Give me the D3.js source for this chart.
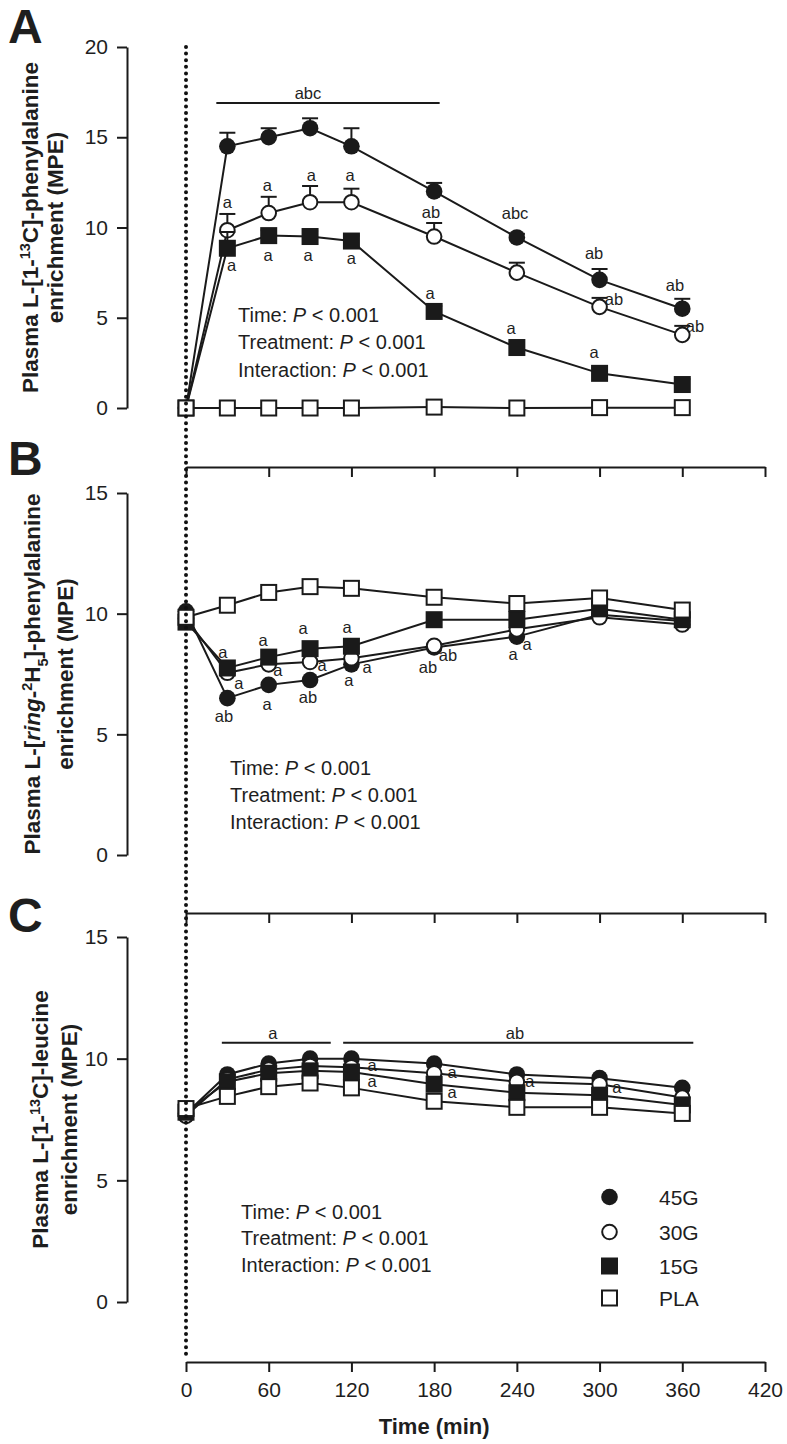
<!DOCTYPE html>
<html><head><meta charset="utf-8">
<script src="https://cdn.jsdelivr.net/npm/d3@7"></script>
<style>
body{margin:0;background:#fff}
svg{display:block}
text{font-family:"Liberation Sans",Arial,Helvetica,sans-serif;fill:#1e1e1e}
</style>
</head><body>
<svg id="chart" width="787" height="1444"></svg>
<script>
// ---------- DATA ----------
const times = [0, 30, 60, 90, 120, 180, 240, 300, 360];
const xTickValues = [0, 60, 120, 180, 240, 300, 360, 420];
const seriesNames = ["45G", "30G", "15G", "PLA"];

// Panel A: L-[1-13C]-phenylalanine (MPE)
const a45 = [0, 14.5, 15.0, 15.5, 14.5, 12.0, 9.45, 7.1, 5.5];
const a45err = [0, 0.75, 0.5, 0.55, 1.0, 0.47, 0.2, 0.6, 0.55];
const a30 = [0, 9.85, 10.8, 11.4, 11.4, 9.5, 7.5, 5.6, 4.05];
const a30err = [0, 0.9, 0.9, 0.9, 0.75, 0.75, 0.55, 0.5, 0.5];
const a15 = [0, 8.85, 9.55, 9.5, 9.25, 5.35, 3.35, 1.92, 1.3];
const a15err = [0, 0.9, 0.3, 0.3, 0.3, 0.3, 0.3, 0.3, 0.3];
const aPLA = [0, 0, 0, 0, 0, 0.05, 0, 0.02, 0.02];
const aTicks = [0, 5, 10, 15, 20];

// Panel B: L-[ring-2H5]-phenylalanine (MPE)
const b45 = [10.1, 6.5, 7.05, 7.25, 7.9, 8.6, 9.05, 9.95, 9.7];
const b30 = [9.8, 7.55, 7.9, 8.0, 8.15, 8.67, 9.35, 9.85, 9.55];
const b15 = [9.65, 7.75, 8.2, 8.55, 8.65, 9.75, 9.75, 10.2, 9.75];
const bPLA = [9.85, 10.35, 10.88, 11.12, 11.05, 10.68, 10.42, 10.65, 10.15];
const bTicks = [0, 5, 10, 15];

// Panel C: L-[1-13C]-leucine (MPE)
const c45 = [7.75, 9.35, 9.8, 10.0, 10.0, 9.8, 9.35, 9.2, 8.8];
const c30 = [7.65, 9.15, 9.55, 9.7, 9.65, 9.4, 9.05, 8.95, 8.4];
const c15 = [7.8, 9.05, 9.4, 9.5, 9.45, 8.95, 8.6, 8.5, 8.1];
const cPLA = [7.95, 8.45, 8.85, 9.0, 8.8, 8.25, 8.0, 8.0, 7.75];
const cTicks = [0, 5, 10, 15];

// significance letters: [time, value, label]
const annA = [[30,11.4,"a"],[59,12.35,"a"],[91,12.9,"a"],[119,12.9,"a"],
  [33,7.92,"a"],[59.5,8.48,"a"],[88.5,8.48,"a"],[120,8.31,"a"],
  [177.7,10.86,"ab"],[238.7,10.8,"abc"],[296,8.59,"ab"],[310.5,6.04,"ab"],
  [354.7,6.81,"ab"],[369.2,4.54,"ab"],[177,6.37,"a"],[235.8,4.43,"a"],[296,3.1,"a"],
  [88.5,17.45,"abc"]];
const barsA = [[22, 184, 16.9]];
const annB = [[26.8,8.41,"a"],[38.4,7.13,"a"],[27.6,5.76,"ab"],[55.9,8.91,"a"],
  [66.7,7.67,"a"],[58.8,6.26,"a"],[84.9,9.41,"a"],[98.7,7.87,"a"],[88.5,6.55,"ab"],
  [116.8,9.45,"a"],[131.3,7.79,"a"],[118.2,7.25,"a"],[175.5,7.79,"ab"],[190,8.29,"ab"],
  [237.2,8.33,"a"],[247.4,8.74,"a"]];
const annC = [[63,11.06,"a"],[238.6,11.06,"ab"],[134.9,9.74,"a"],[134.9,9.08,"a"],
  [193,9.45,"a"],[193,8.63,"a"],[249.5,9.08,"a"],[312.6,8.84,"a"]];
const barsC = [[26, 105, 10.65], [114, 368, 10.65]];

const statLines = [["Time: ", "P", " < 0.001"], ["Treatment: ", "P", " < 0.001"], ["Interaction: ", "P", " < 0.001"]];

// ---------- DRAWING ----------
const svg = d3.select("#chart");
const INK = "#1a1a1a";
const x = d3.scaleLinear().domain([0, 420]).range([186, 765]);

const panels = [
  {letter:"A", letterY:43, domain:[0,20], range:[408,47], axisY:467, ticks:aTicks,
   series:[[a45,a45err],[a30,a30err],[a15,a15err],[aPLA,null]], ann:annA, bars:barsA,
   stats:{x:238, y:[315,342,370]},
   title:[{x:38, parts:[["Plasma L-[1-"],["13","sup"],["C]-phenylalanine"]]},{x:63, parts:[["enrichment (MPE)"]]}]},
  {letter:"B", letterY:475, domain:[0,15], range:[855,493], axisY:913, ticks:bTicks,
   series:[[b45,null],[b30,null],[b15,null],[bPLA,null]], ann:annB, bars:[],
   stats:{x:230, y:[768,795,822]},
   title:[{x:40, parts:[["Plasma L-["],["ring","it"],["-"],["2","sup"],["H"],["5","sub"],["]-phenylalanine"]]},{x:73, parts:[["enrichment (MPE)"]]}]},
  {letter:"C", letterY:932, domain:[0,15], range:[1302,937], axisY:1362, ticks:cTicks,
   series:[[c45,null],[c30,null],[c15,null],[cPLA,null]], ann:annC, bars:barsC,
   stats:{x:241, y:[1212,1238,1265]},
   title:[{x:48, parts:[["Plasma L-[1-"],["13","sup"],["C]-leucine"]]},{x:77, parts:[["enrichment (MPE)"]]}]}
];

const R = 8.3, S = 17;
function drawMarker(g, kind, cx, cy) {
  if (kind === 0 || kind === 1) {
    g.append("circle").attr("cx", cx).attr("cy", cy).attr("r", kind === 0 ? R : R - 1)
      .attr("fill", kind === 0 ? INK : "#fff").attr("stroke", INK).attr("stroke-width", kind === 0 ? 0 : 2);
  } else {
    const s = kind === 2 ? S : S - 2;
    g.append("rect").attr("x", cx - s/2).attr("y", cy - s/2).attr("width", s).attr("height", s)
      .attr("fill", kind === 2 ? INK : "#fff").attr("stroke", INK).attr("stroke-width", kind === 2 ? 0 : 2);
  }
}

panels.forEach((p, pi) => {
  const y = d3.scaleLinear().domain(p.domain).range(p.range);
  const g = svg.append("g");

  // y axis
  const ya = g.append("g").attr("transform", "translate(127,0)")
    .call(d3.axisLeft(y).tickValues(p.ticks).tickSize(10).tickSizeOuter(0).tickPadding(9));
  // x axis
  const xa = g.append("g").attr("transform", `translate(0,${p.axisY})`)
    .call(d3.axisBottom(x).tickValues(xTickValues).tickSize(10).tickSizeOuter(0).tickPadding(10)
      .tickFormat(pi === 2 ? d3.format("d") : () => ""));
  [ya, xa].forEach(a => {
    a.selectAll("path,line").attr("stroke", INK).attr("stroke-width", 2);
    a.selectAll("text").attr("font-size", 21).attr("fill", "#1e1e1e")
      .style("font-family", '"Liberation Sans",Arial,sans-serif');
  });

  // panel letter
  g.append("text").attr("x", 8).attr("y", p.letterY).attr("font-size", 48)
    .attr("font-weight", "bold").attr("fill", "#111").text(p.letter);

  // y title
  const cy = (p.range[0] + p.range[1]) / 2;
  p.title.forEach(line => {
    const t = g.append("text").attr("transform", `translate(${line.x},${cy}) rotate(-90)`)
      .attr("text-anchor", "middle").attr("font-size", 22.5).attr("font-weight", "bold");
    line.parts.forEach(([txt, kind]) => {
      const ts = t.append("tspan").text(txt);
      if (kind === "sup") ts.attr("font-size", 14.5).attr("baseline-shift", "super");
      if (kind === "sub") ts.attr("font-size", 14.5).attr("baseline-shift", "sub");
      if (kind === "it") ts.attr("font-style", "italic");
    });
  });

  // stats
  statLines.forEach((parts, i) => {
    const t = g.append("text").attr("x", p.stats.x).attr("y", p.stats.y[i] + 7).attr("font-size", 20);
    t.append("tspan").text(parts[0]);
    t.append("tspan").attr("font-style", "italic").text(parts[1]);
    t.append("tspan").text(parts[2]);
  });

  // significance bars and letters
  p.bars.forEach(([t0, t1, v]) => {
    g.append("line").attr("x1", x(t0)).attr("x2", x(t1)).attr("y1", y(v)).attr("y2", y(v))
      .attr("stroke", INK).attr("stroke-width", 2);
  });
  p.ann.forEach(([t, v, lab]) => {
    g.append("text").attr("x", x(t)).attr("y", y(v)).attr("dy", "0.36em")
      .attr("text-anchor", "middle").attr("font-size", 16.5).text(lab);
  });

  // series
  p.series.forEach(([vals, errs], si) => {
    const sg = g.append("g");
    const line = d3.line().x((d, i) => x(times[i])).y(d => y(d));
    sg.append("path").datum(vals).attr("d", line).attr("fill", "none")
      .attr("stroke", INK).attr("stroke-width", 2);
    if (errs) {
      vals.forEach((v, i) => {
        if (!errs[i]) return;
        const cxp = x(times[i]), top = y(v + errs[i]);
        sg.append("line").attr("x1", cxp).attr("x2", cxp).attr("y1", y(v)).attr("y2", top)
          .attr("stroke", INK).attr("stroke-width", 2);
        sg.append("line").attr("x1", cxp - 8).attr("x2", cxp + 8).attr("y1", top).attr("y2", top)
          .attr("stroke", INK).attr("stroke-width", 2);
      });
    }
    vals.forEach((v, i) => drawMarker(sg, si, x(times[i]), y(v)));
  });
});

// x-axis title
svg.append("text").attr("x", x(180)).attr("y", 1434).attr("text-anchor", "middle")
  .attr("font-size", 22).attr("font-weight", "bold").text("Time (min)");

// legend
const legY = [1197, 1232, 1266, 1298];
seriesNames.forEach((name, i) => {
  const lg = svg.append("g");
  drawMarker(lg, i, 609.5, legY[i]);
  lg.append("text").attr("x", 659).attr("y", legY[i]).attr("dy", "0.36em")
    .attr("font-size", 21).text(name);
});

// dotted vertical line at t = 0 (drawn on top)
svg.append("line").attr("x1", x(0)).attr("x2", x(0)).attr("y1", 47).attr("y2", 1357)
  .attr("stroke", "#111").attr("stroke-width", 4).attr("stroke-linecap", "round")
  .attr("stroke-dasharray", "0,6.6");
</script>
</body></html>
